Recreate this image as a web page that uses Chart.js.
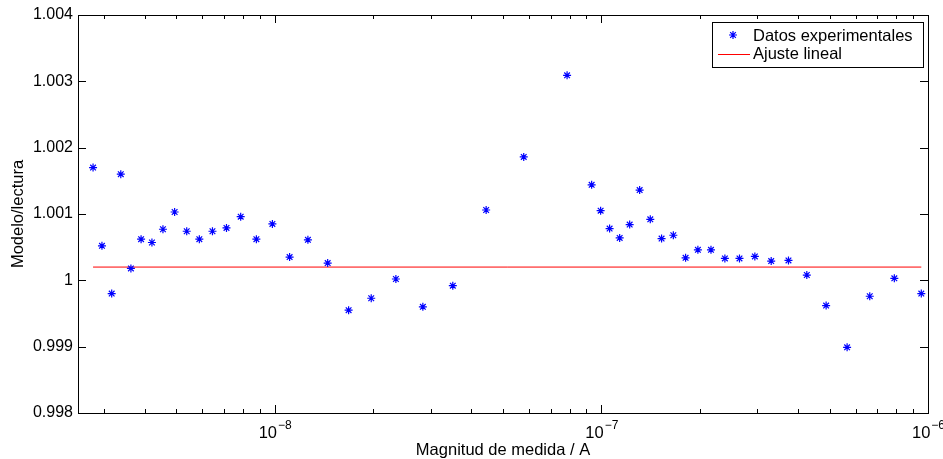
<!DOCTYPE html>
<html>
<head>
<meta charset="utf-8">
<script src="https://cdn.jsdelivr.net/npm/chart.js@4.4.1/dist/chart.umd.min.js"></script>
<style>
  html, body { margin: 0; padding: 0; background: #fff; }
  #wrap { width: 943px; height: 459px; }
</style>
</head>
<body>
<div id="wrap"><canvas id="chart"></canvas></div>
<script>
const magnitudes = [
  2.78e-9, 2.96e-9, 3.17e-9, 3.38e-9, 3.63e-9, 3.90e-9, 4.21e-9, 4.55e-9, 4.94e-9, 5.38e-9,
  5.88e-9, 6.45e-9, 7.12e-9, 7.87e-9, 8.79e-9, 9.84e-9, 1.111e-8, 1.264e-8, 1.453e-8, 1.684e-8,
  1.975e-8, 2.350e-8, 2.842e-8, 3.510e-8, 4.440e-8, 5.787e-8, 7.855e-8, 9.340e-8, 9.95e-8, 1.060e-7,
  1.138e-7, 1.221e-7, 1.310e-7, 1.412e-7, 1.529e-7, 1.661e-7, 1.811e-7, 1.975e-7, 2.166e-7, 2.389e-7,
  2.648e-7, 2.951e-7, 3.311e-7, 3.740e-7, 4.256e-7, 4.877e-7, 5.654e-7, 6.633e-7, 7.887e-7, 9.539e-7
];
const ratios = [
  1.00170, 1.00052, 0.99980, 1.00160, 1.00018, 1.00062, 1.00057, 1.00077, 1.00103, 1.00074,
  1.00062, 1.00074, 1.00079, 1.00096, 1.00062, 1.00085, 1.00035, 1.00061, 1.00026, 0.99955,
  0.99973, 1.00002, 0.99960, 0.99992, 1.00106, 1.00186, 1.00309, 1.00144, 1.00105, 1.00078,
  1.00064, 1.00084, 1.00136, 1.00092, 1.00063, 1.00068, 1.00034, 1.00046, 1.00046, 1.00033,
  1.00033, 1.00036, 1.00029, 1.00030, 1.00008, 0.99962, 0.99899, 0.99976, 1.00003, 0.99980
];
const fitLevel = [1.0002, 1.0002];
const seriesNames = ['Datos experimentales', 'Ajuste lineal'];
const xMajorTicks = [1e-8, 1e-7, 1e-6];
const xMinorMultiples = [2, 3, 4, 5, 6, 7, 8, 9];
const xDecades = [-9, -8, -7];

const FONT = '"Liberation Sans", Arial, sans-serif';
const FS = 16.5;

// matlab-ish box: frame, inward ticks on all sides, 10^n labels, legend
const matlabBox = {
  id: 'matlabBox',
  afterDraw(chart) {
    const { ctx, chartArea: a, scales: { x, y } } = chart;
    ctx.save();
    ctx.strokeStyle = '#000';
    ctx.lineWidth = 1;
    ctx.beginPath();
    const xTick = (v, len) => {
      const px = Math.round(x.getPixelForValue(v)) + 0.5;
      ctx.moveTo(px, a.bottom); ctx.lineTo(px, a.bottom - len);
      ctx.moveTo(px, a.top); ctx.lineTo(px, a.top + len);
    };
    xDecades.forEach(d => {
      xMinorMultiples.forEach(m => {
        const v = m * Math.pow(10, d);
        if (v > x.min && v < x.max) xTick(v, 4);
      });
    });
    xMajorTicks.forEach(v => xTick(v, 8));
    y.ticks.forEach(t => {
      const py = Math.round(y.getPixelForValue(t.value)) + 0.5;
      ctx.moveTo(a.left, py); ctx.lineTo(a.left + 8, py);
      ctx.moveTo(a.right, py); ctx.lineTo(a.right - 8, py);
    });
    ctx.stroke();
    ctx.strokeRect(a.left + 0.5, a.top + 0.5, a.right - a.left, a.bottom - a.top);

    // x labels as 10 with superscript exponent
    ctx.fillStyle = '#000';
    ctx.textBaseline = 'alphabetic';
    ctx.textAlign = 'left';
    xMajorTicks.forEach(v => {
      const px = x.getPixelForValue(v);
      const exp = '\u2212' + Math.abs(Math.round(Math.log10(v)));
      ctx.font = FS + 'px ' + FONT;
      const wb = ctx.measureText('10').width;
      ctx.font = '12px ' + FONT;
      const we = ctx.measureText(exp).width;
      const x0 = px - (wb + we) / 2;
      ctx.font = FS + 'px ' + FONT;
      ctx.fillText('10', x0, a.bottom + 25);
      ctx.font = '12px ' + FONT;
      ctx.fillText(exp, x0 + wb + 1, a.bottom + 16);
    });

    // legend
    const lx = a.right - 216, ly = a.top + 7, lw = 211, lh = 45;
    ctx.fillStyle = '#fff';
    ctx.fillRect(lx, ly, lw, lh);
    ctx.strokeRect(lx + 0.5, ly + 0.5, lw, lh);
    const ds = chart.data.datasets;
    ctx.strokeStyle = ds[0].borderColor;
    ctx.lineWidth = ds[0].borderWidth;
    Chart.helpers.drawPoint(ctx, { pointStyle: 'star', radius: 4, rotation: 0, borderWidth: ds[0].borderWidth }, lx + 21, ly + 13);
    ctx.strokeStyle = ds[1].borderColor;
    ctx.lineWidth = ds[1].borderWidth;
    ctx.beginPath();
    ctx.moveTo(lx + 6, ly + 32.5); ctx.lineTo(lx + 38, ly + 32.5);
    ctx.stroke();
    ctx.fillStyle = '#000';
    ctx.font = FS + 'px ' + FONT;
    ctx.textBaseline = 'middle';
    ctx.fillText(ds[0].label, lx + 41, ly + 14);
    ctx.fillText(ds[1].label, lx + 41, ly + 32);
    ctx.restore();
  }
};

new Chart(document.getElementById('chart'), {
  type: 'scatter',
  data: {
    datasets: [
      {
        label: seriesNames[0],
        data: magnitudes.map((m, i) => ({ x: m, y: ratios[i] })),
        pointStyle: 'star',
        pointRadius: 4,
        borderColor: '#0000ff',
        backgroundColor: '#0000ff',
        borderWidth: 1.2,
        showLine: false,
      },
      {
        label: seriesNames[1],
        data: [
          { x: magnitudes[0], y: fitLevel[0] },
          { x: magnitudes[magnitudes.length - 1], y: fitLevel[1] }
        ],
        showLine: true,
        borderColor: '#ff0000',
        borderWidth: 1,
        pointRadius: 0,
      }
    ]
  },
  options: {
    responsive: true,
    maintainAspectRatio: false,
    animation: false,
    layout: { padding: { top: 15, right: 15, left: 0, bottom: 0 } },
    plugins: {
      legend: { display: false },
      tooltip: { enabled: false }
    },
    scales: {
      x: {
        type: 'logarithmic',
        min: 2.5e-9,
        max: 1e-6,
        grid: { display: false, drawTicks: false },
        border: { display: false },
        ticks: { display: false },
        title: {
          display: true,
          text: 'Magnitud de medida / A',
          color: '#000',
          font: { family: FONT, size: FS, lineHeight: 1 },
          padding: { top: 0, bottom: 0 }
        },
        afterFit(scale) { scale.height = 46; }
      },
      y: {
        min: 0.998,
        max: 1.004,
        grid: { display: false, drawTicks: false },
        border: { display: false },
        ticks: {
          stepSize: 0.001,
          color: '#000',
          padding: 5,
          font: { family: FONT, size: 16 },
          callback: v => String(Number(v.toFixed(3)))
        },
        title: {
          display: true,
          text: 'Modelo/lectura',
          color: '#000',
          font: { family: FONT, size: FS, lineHeight: 1 },
          padding: { top: 10, bottom: 0 }
        },
        afterFit(scale) { scale.width = 78; }
      }
    }
  },
  plugins: [matlabBox]
});
</script>
</body>
</html>
